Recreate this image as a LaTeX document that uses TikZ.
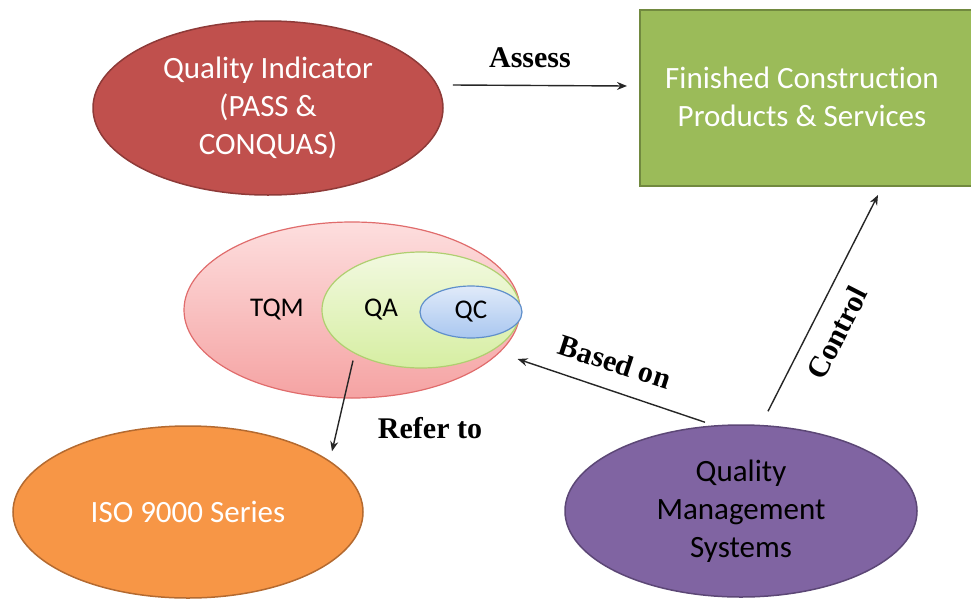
\documentclass[tikz,border=0pt]{standalone}
\usepackage{fontspec}
\setmainfont{Carlito}[Ligatures={NoCommon}]
\newfontfamily\labelfont{Liberation Serif}
\usetikzlibrary{shapes.geometric,arrows.meta,calc}

\definecolor{qired}{HTML}{C0504D}
\definecolor{qiredline}{HTML}{8E3A38}
\definecolor{fcgreen}{HTML}{9BBB59}
\definecolor{fcgreenline}{HTML}{71893F}
\definecolor{isoorange}{HTML}{F79646}
\definecolor{isoline}{HTML}{B46A30}
\definecolor{qmspurple}{HTML}{8064A2}
\definecolor{qmsline}{HTML}{5C4776}
\definecolor{tqmtop}{HTML}{FDDEDE}
\definecolor{tqmbot}{HTML}{F5A3A3}
\definecolor{tqmline}{HTML}{E06C6C}
\definecolor{qatop}{HTML}{F2F9E0}
\definecolor{qabot}{HTML}{D6EEA2}
\definecolor{qaline}{HTML}{AFCF70}
\definecolor{qctop}{HTML}{E0EAF9}
\definecolor{qcbot}{HTML}{A9C7F0}
\definecolor{qcline}{HTML}{5F8FCB}
\definecolor{arrowgrey}{HTML}{262626}

\tikzset{
  bigtext/.style={font=\fontsize{31}{38}\selectfont, align=center},
  oval/.style={ellipse, inner sep=0pt, line width=1.5pt, bigtext},
  nested/.style={ellipse, inner sep=0pt, line width=1.2pt, font=\fontsize{27}{32}\selectfont},
  arr/.style={draw=arrowgrey, line width=1.4pt, -{Stealth[length=10pt,width=8pt]}},
  linklabel/.style={font=\labelfont\bfseries\fontsize{30}{34}\selectfont, inner sep=0pt}
}

\begin{document}
\begin{tikzpicture}[x=1pt, y=-1pt]
  \useasboundingbox (0,0) rectangle (971,600);

  % top row: indicator and products
  \node[oval, draw=qiredline, fill=qired, text=white,
        minimum width=350pt, minimum height=174pt] (qi) at (268,108)
        {Quality Indicator\\(PASS \&\\CONQUAS)};
  \node[rectangle, draw=fcgreenline, fill=fcgreen, line width=2pt,
        minimum width=340pt, minimum height=176pt, inner sep=0pt,
        anchor=north west] (fc) at (639,9) {};
  \node[bigtext, text=white, anchor=center] (fctext) at (802,97)
        {Finished Construc\kern0pt tion\\Products \& Services};

  % nested quality approaches
  \node[nested, draw=tqmline, top color=tqmtop, bottom color=tqmbot,
        minimum width=336pt, minimum height=176pt] (tqm) at (352,310) {};
  \node[nested, draw=qaline, top color=qatop, bottom color=qabot,
        minimum width=198pt, minimum height=116pt] (qa) at (421,310) {};
  \node[nested, draw=qcline, top color=qctop, bottom color=qcbot,
        minimum width=102pt, minimum height=52pt] (qc) at (471,312) {QC};
  \node[font=\fontsize{27}{32}\selectfont] (tqmtext) at (277,310) {TQM};
  \node[font=\fontsize{27}{32}\selectfont] (qatext) at (381,310) {QA};

  % bottom row
  \node[oval, draw=isoline, fill=isoorange, text=white,
        minimum width=350pt, minimum height=172pt] (iso) at (188,512)
        {ISO 9000 Series};
  \node[oval, draw=qmsline, fill=qmspurple, text=black,
        minimum width=352pt, minimum height=172pt] (qms) at (741,511)
        {Quality\\Management\\Systems};

  % connectors
  \draw[arr] ($(qi.east)+(9,-23)$) -- ($(fc.west)+(-12,-12)$);
  \draw[arr] ($(qa.south)+(-68,-8)$) -- ($(iso.north)+(144,26)$);
  \draw[arr] ($(qms.north)+(-36,-2)$) -- ($(tqm.east)+(-3,49)$);
  \draw[arr] ($(qms.north)+(27,-13)$) -- ($(fc.south)+(68,8)$);

  % connector labels
  \node[linklabel] (lassess) at (530,58) {Assess};
  \node[linklabel] (lrefer) at (430,428) {Refer to};
  \node[linklabel, rotate=-18] (lbased) at (615,362) {Based on};
  \node[linklabel, rotate=63] (lcontrol) at (837,333) {Control};
\end{tikzpicture}
\end{document}
